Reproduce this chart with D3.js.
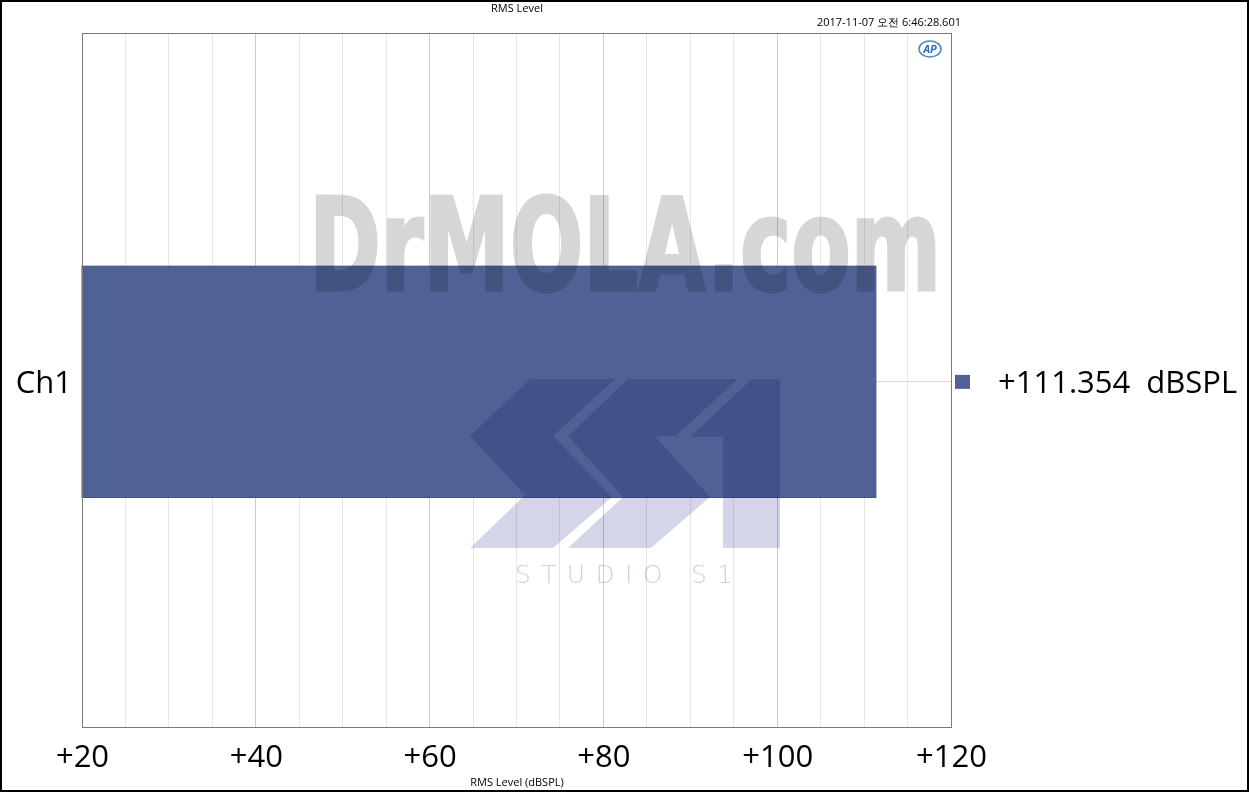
<!DOCTYPE html>
<html><head><meta charset="utf-8">
<script src="https://cdnjs.cloudflare.com/ajax/libs/d3/7.8.5/d3.min.js"></script>
<style>html,body{margin:0;padding:0;background:#fff;}svg{display:block;}</style>
</head><body>
<script>
const categories = ["Ch1"];
const values = [111.354];
const unit = "dBSPL";
const xTicks = [20, 40, 60, 80, 100, 120];
const xMinorTicks = d3.range(20, 121, 5);
const title = "RMS Level";
const timestamp = "2017-11-07 오전 6:46:28.601";
const xAxisTitle = "RMS Level (dBSPL)";

const W = 1249, H = 792;
const m = {l: 82, t: 33, r: 951, b: 727};
const svg = d3.select("body").append("svg").attr("width", W).attr("height", H);
svg.append("rect").attr("width", W).attr("height", H).attr("fill", "#fff");

const x = d3.scaleLinear().domain([20, 120]).range([m.l, m.r]);
const y = d3.scaleBand().domain(categories).range([m.t, m.b]).paddingInner(0).paddingOuter(1).align(0.504);
const font = "'Open Sans', 'Noto Sans', sans-serif";

// grid
const g = svg.append("g");
g.selectAll("line.minor").data(xMinorTicks).join("line")
  .attr("x1", d => x(d)).attr("x2", d => x(d)).attr("y1", m.t).attr("y2", m.b)
  .attr("stroke", d => d % 20 === 0 ? "#cccccc" : "#e6e6e6").attr("stroke-width", 1)
  .attr("shape-rendering", "crispEdges");
g.selectAll("line.cat").data(categories).join("line")
  .attr("x1", m.l).attr("x2", m.r).attr("y1", d => y(d) + y.bandwidth() / 2).attr("y2", d => y(d) + y.bandwidth() / 2)
  .attr("stroke", "#d6d6d6").attr("shape-rendering", "crispEdges");

// bars
svg.selectAll("rect.bar").data(values).join("rect")
  .attr("x", x(20)).attr("y", (d, i) => y(categories[i]))
  .attr("width", d => x(d) - x(20)).attr("height", y.bandwidth())
  .attr("fill", "#506196").attr("stroke", "#3f4f85").attr("stroke-width", 1);

// watermarks
svg.append("text").attr("x", 309).attr("y", 290).attr("textLength", 632).attr("lengthAdjust", "spacingAndGlyphs")
  .attr("font-family", "'Liberation Sans Narrow','DejaVu Sans Condensed',sans-serif").attr("font-weight", "bold")
  .attr("font-size", 128).attr("fill", "#d6d6d6").attr("stroke", "#d6d6d6").attr("stroke-width", 3)
  .style("mix-blend-mode", "multiply").text("DrMOLA.com");

const logo = svg.append("g").style("mix-blend-mode", "multiply").attr("fill", "#d5d5ea");
const shapeA = [[530,379],[615,379],[553,436],[612,497],[553,548],[470,548],[525,495],[470,436]];
const shapeB = [[628,379],[738,379],[676,436],[655,436],[710,497],[651,548],[568,548],[623,497],[568,436]];
const shapeOne = [[752,379],[780,379],[780,548],[723,548],[723,437],[690,437]];
[shapeA, shapeB, shapeOne].forEach(s => logo.append("polygon").attr("points", s.map(p => p.join(",")).join(" ")));
svg.append("text").attr("x", 515).attr("y", 583).attr("textLength", 218).attr("lengthAdjust", "spacing")
  .attr("font-family", "'DejaVu Sans', sans-serif").attr("font-weight", 200).attr("font-size", 25)
  .attr("fill", "#cfcfe3").style("mix-blend-mode", "multiply").text("STUDIO S1");

// plot border
svg.append("rect").attr("x", m.l + 0.5).attr("y", m.t + 0.5).attr("width", m.r - m.l).attr("height", m.b - m.t)
  .attr("fill", "none").attr("stroke", "#7a7a7a").attr("stroke-width", 1);

// x axis labels
const xAxis = d3.axisBottom(x).tickValues(xTicks).tickSize(0).tickPadding(0).tickFormat(d => "+" + d);
const ax = svg.append("g").attr("transform", `translate(0,${m.b})`).call(xAxis);
ax.select(".domain").remove();
ax.selectAll("text").attr("font-family", font).attr("font-size", 31).attr("fill", "#000").attr("dy", null).attr("y", 40);

// y axis labels
const yAxis = d3.axisLeft(y).tickSize(0).tickPadding(0);
const ay = svg.append("g").attr("transform", `translate(${m.l - 10},0)`).call(yAxis);
ay.select(".domain").remove();
ay.selectAll("text").attr("font-family", font).attr("font-size", 31).attr("fill", "#000").attr("dy", "0.35em");

// legend
categories.forEach((c, i) => {
  const cy = y(c) + y.bandwidth() / 2;
  svg.append("rect").attr("x", 955).attr("y", cy - 7).attr("width", 15).attr("height", 14).attr("fill", "#506196");
  svg.append("text").attr("x", 998).attr("y", cy).attr("dy", "0.35em").attr("font-family", font).attr("font-size", 31)
    .attr("fill", "#000").attr("xml:space", "preserve").text("+" + values[i].toFixed(3) + "  " + unit);
});

// titles
svg.append("text").attr("x", 517).attr("y", 12).attr("text-anchor", "middle").attr("font-family", font).attr("font-size", 11).text(title);
svg.append("text").attr("x", 961).attr("y", 26).attr("text-anchor", "end").attr("font-family", font).attr("font-size", 11).text(timestamp);
svg.append("text").attr("x", 517).attr("y", 786).attr("text-anchor", "middle").attr("font-family", font).attr("font-size", 11).text(xAxisTitle);

// AP logo
const apg = svg.append("g").attr("transform", "translate(930,49)");
apg.append("ellipse").attr("rx", 11).attr("ry", 8).attr("fill", "none").attr("stroke", "#4a86c8").attr("stroke-width", 1.5);
apg.append("text").attr("text-anchor", "middle").attr("dy", "0.35em").attr("font-family", font).attr("font-style", "italic")
  .attr("font-weight", "bold").attr("font-size", 11).attr("fill", "#2f6db5").text("AP");

// outer border
svg.append("rect").attr("x", 1).attr("y", 1).attr("width", W - 2).attr("height", H - 2).attr("fill", "none").attr("stroke", "#000").attr("stroke-width", 2);
</script>
</body></html>
